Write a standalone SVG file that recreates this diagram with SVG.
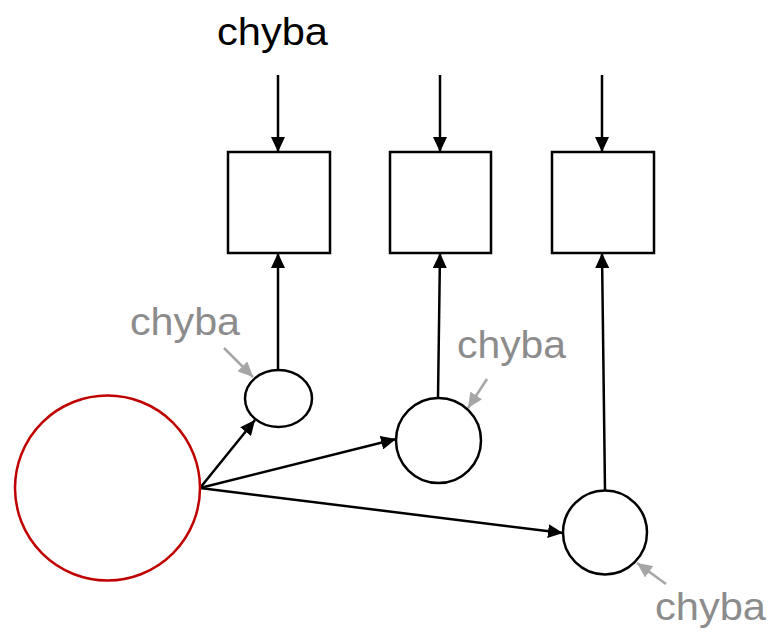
<svg xmlns="http://www.w3.org/2000/svg" width="774" height="633" viewBox="0 0 774 633">
<style>
.n{fill:#fff;stroke:#000;stroke-width:2.5}
.red{fill:#fff;stroke:#c00000;stroke-width:2.5}
.c{fill:none;stroke:#000;stroke-width:2.5}
.g{fill:none;stroke:#a6a6a6;stroke-width:2.5}
.t{font-family:"Liberation Sans",Arial,sans-serif;font-size:38px}
.tg{font-family:"Liberation Sans",Arial,sans-serif;font-size:38px;fill:#8c8c8c}
</style>
<defs>
<marker id="ab" markerUnits="userSpaceOnUse" markerWidth="16" markerHeight="14" refX="15" refY="7" orient="auto">
<path d="M0,0 L15,7 L0,14 Z" fill="#000"/>
</marker>
<marker id="ag" markerUnits="userSpaceOnUse" markerWidth="16" markerHeight="14" refX="15" refY="7" orient="auto">
<path d="M0,0 L15,7 L0,14 Z" fill="#a6a6a6"/>
</marker>
</defs>
<g id="connectors">
<line class="c" x1="278" y1="75" x2="278" y2="152" marker-end="url(#ab)"/>
<line class="c" x1="440" y1="75" x2="440" y2="152" marker-end="url(#ab)"/>
<line class="c" x1="602" y1="75" x2="602" y2="152" marker-end="url(#ab)"/>
<line class="c" x1="278" y1="370" x2="278" y2="253" marker-end="url(#ab)"/>
<line class="c" x1="438" y1="398" x2="440" y2="253" marker-end="url(#ab)"/>
<line class="c" x1="605" y1="490" x2="602" y2="253" marker-end="url(#ab)"/>
<line class="c" x1="200" y1="488" x2="255" y2="420" marker-end="url(#ab)"/>
<line class="c" x1="200" y1="488" x2="396" y2="439" marker-end="url(#ab)"/>
<line class="c" x1="200" y1="488" x2="563" y2="533" marker-end="url(#ab)"/>
<line class="g" x1="224" y1="348" x2="253" y2="377" marker-end="url(#ag)"/>
<line class="g" x1="487" y1="379" x2="468" y2="408" marker-end="url(#ag)"/>
<line class="g" x1="666" y1="584" x2="637" y2="563" marker-end="url(#ag)"/>
</g>
<g id="box1"><rect class="n" x="228" y="152" width="102" height="101"/></g>
<g id="box2"><rect class="n" x="390" y="152" width="101" height="101"/></g>
<g id="box3"><rect class="n" x="552" y="152" width="102" height="101"/></g>
<g id="source"><circle class="red" cx="107.5" cy="488" r="92.5"/></g>
<g id="node1"><ellipse class="n" cx="278.5" cy="398.5" rx="33.5" ry="28.5"/></g>
<g id="node2"><circle class="n" cx="438.5" cy="440.5" r="42.5"/></g>
<g id="node3"><circle class="n" cx="605" cy="532.5" r="42"/></g>
<g id="labels">
<text class="t" x="217" y="45" textLength="111" lengthAdjust="spacingAndGlyphs">chyba</text>
<text class="tg" x="130" y="335" textLength="110" lengthAdjust="spacingAndGlyphs">chyba</text>
<text class="tg" x="457" y="358" textLength="109" lengthAdjust="spacingAndGlyphs">chyba</text>
<text class="tg" x="655" y="620" textLength="111" lengthAdjust="spacingAndGlyphs">chyba</text>
</g>
</svg>
